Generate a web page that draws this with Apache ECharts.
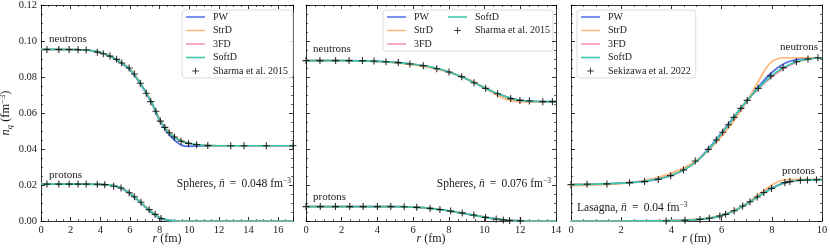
<!DOCTYPE html>
<html><head><meta charset="utf-8">
<script src="https://cdn.jsdelivr.net/npm/echarts@6/dist/echarts.min.js"></script>
<style>html,body{margin:0;padding:0;background:#fff}#c{width:830px;height:249px}</style>
</head><body><div id="c"></div><script>
// ---------- Panel 1: Spheres, nbar = 0.048 ----------
const p1_r_line_n = [0,1,2,3,3.5,4,4.5,5,5.5,6,6.5,7,7.5,8,8.5,9,9.5,10,10.5,11,12,13,14,15,16,17];
const p1_n_PW    = [0.0953,0.0953,0.0952,0.0950,0.0945,0.0936,0.0921,0.0900,0.0872,0.0840,0.0786,0.0722,0.0648,0.0557,0.0495,0.0450,0.0420,0.0415,0.0416,0.0417,0.0418,0.0418,0.0418,0.0418,0.0418,0.0418];
const p1_n_StrD  = [0.0953,0.0953,0.0952,0.0950,0.0945,0.0936,0.0921,0.0901,0.0875,0.0845,0.0792,0.0729,0.0656,0.0567,0.0508,0.0470,0.0446,0.0432,0.0424,0.0420,0.0418,0.0418,0.0418,0.0418,0.0418,0.0418];
const p1_n_3FD   = [0.0953,0.0953,0.0952,0.0950,0.0945,0.0936,0.0921,0.0901,0.0874,0.0843,0.0790,0.0726,0.0652,0.0562,0.0502,0.0463,0.0441,0.0430,0.0423,0.0420,0.0418,0.0418,0.0418,0.0418,0.0418,0.0418];
const p1_n_SoftD = [0.0953,0.0953,0.0952,0.0950,0.0945,0.0936,0.0921,0.0901,0.0874,0.0843,0.0790,0.0727,0.0653,0.0563,0.0503,0.0465,0.0443,0.0431,0.0424,0.0420,0.0418,0.0418,0.0418,0.0418,0.0418,0.0418];
const p1_r_line_p = [0,1,2,3,4,4.5,5,5.5,6,6.5,7,7.5,8,8.5,9,10,12,14,17];
const p1_p_PW    = [0.0205,0.0205,0.0205,0.0205,0.0204,0.0201,0.0194,0.0178,0.0151,0.0117,0.0080,0.0045,0.0017,0.0003,0.0000,0,0,0,0];
const p1_p_StrD  = [0.0205,0.0205,0.0205,0.0205,0.0204,0.0201,0.0195,0.0181,0.0155,0.0121,0.0083,0.0048,0.0021,0.0006,0.0001,0,0,0,0];
const p1_p_3FD   = [0.0205,0.0205,0.0205,0.0205,0.0204,0.0201,0.0195,0.0180,0.0154,0.0120,0.0082,0.0047,0.0020,0.0006,0.0001,0,0,0,0];
const p1_p_SoftD = [0.0205,0.0205,0.0205,0.0205,0.0204,0.0201,0.0195,0.0180,0.0154,0.0120,0.0082,0.0047,0.0020,0.0006,0.0001,0,0,0,0];
const p1_ref_r_n = [0.4,1.2,1.9,2.5,3.05,3.8,4.2,4.65,5.1,5.45,5.95,6.3,6.7,7.1,7.4,7.75,8.05,8.35,8.65,9.0,9.45,9.95,10.5,11.25,12.8,13.7,15.2,17.0];
const p1_ref_n   = [0.0953,0.0953,0.0953,0.0952,0.0950,0.0938,0.0929,0.0916,0.0898,0.0878,0.0850,0.0817,0.0765,0.0710,0.0663,0.0610,0.0555,0.0520,0.0490,0.0467,0.0443,0.0431,0.0424,0.0419,0.0418,0.0418,0.0418,0.0418];
const p1_ref_r_p = [0.4,1.2,1.9,2.5,3.05,3.8,4.3,4.9,5.4,5.95,6.3,6.75,7.3,7.7,8.1];
const p1_ref_p   = [0.0205,0.0205,0.0205,0.0205,0.0205,0.0204,0.0202,0.0193,0.0183,0.0157,0.0135,0.0104,0.0063,0.0037,0.0014];

// ---------- Panel 2: Spheres, nbar = 0.076 ----------
const p2_r_line = [0,1,2,3,4,5,6,6.5,7,7.5,8,8.5,9,9.5,10,10.5,11,11.5,12,12.5,13,14];
const p2_n_PW    = [0.0891,0.0891,0.0891,0.0890,0.0887,0.0881,0.0871,0.0864,0.0855,0.0843,0.0828,0.0810,0.0789,0.0765,0.0741,0.0717,0.0697,0.0681,0.0670,0.0666,0.0664,0.0663];
const p2_n_StrD  = [0.0892,0.0892,0.0891,0.0889,0.0885,0.0878,0.0867,0.0859,0.0850,0.0839,0.0826,0.0810,0.0792,0.0768,0.0740,0.0710,0.0684,0.0669,0.0662,0.0661,0.0662,0.0663];
const p2_n_3FD   = [0.0891,0.0891,0.0891,0.0890,0.0887,0.0881,0.0871,0.0864,0.0855,0.0843,0.0828,0.0810,0.0789,0.0764,0.0740,0.0717,0.0697,0.0681,0.0670,0.0666,0.0664,0.0663];
const p2_n_SoftD = [0.0891,0.0891,0.0891,0.0890,0.0887,0.0881,0.0871,0.0864,0.0855,0.0843,0.0828,0.0810,0.0789,0.0764,0.0740,0.0717,0.0697,0.0681,0.0670,0.0666,0.0664,0.0663];
const p2_p_PW    = [0.0080,0.0080,0.0080,0.0080,0.0080,0.0080,0.0077,0.0074,0.0069,0.0063,0.0056,0.0048,0.0039,0.0030,0.0021,0.0013,0.0007,0.0003,0.0001,0,0,0];
const p2_p_StrD  = [0.0080,0.0080,0.0080,0.0080,0.0080,0.0080,0.0077,0.0074,0.0070,0.0064,0.0057,0.0048,0.0039,0.0029,0.0020,0.0012,0.0006,0.0002,0.0001,0,0,0];
const p2_p_3FD   = [0.0080,0.0080,0.0080,0.0080,0.0080,0.0080,0.0077,0.0074,0.0069,0.0063,0.0056,0.0048,0.0039,0.0030,0.0021,0.0013,0.0007,0.0003,0.0001,0,0,0];
const p2_p_SoftD = [0.0080,0.0080,0.0080,0.0080,0.0080,0.0080,0.0077,0.0074,0.0069,0.0063,0.0056,0.0048,0.0039,0.0030,0.0021,0.0013,0.0007,0.0003,0.0001,0,0,0];
const p2_ref_r_n = [0,0.78,1.66,2.41,3.16,3.81,4.48,5.17,5.82,6.57,7.32,8.01,8.72,9.41,10.06,10.73,11.46,11.98,12.51,13.26,13.8];
const p2_ref_n   = [0.0891,0.0891,0.0891,0.0891,0.0891,0.0889,0.0885,0.0880,0.0872,0.0863,0.0846,0.0828,0.0802,0.0768,0.0737,0.0707,0.0680,0.0670,0.0667,0.0663,0.0663];
const p2_ref_r_p = [0,0.8,1.65,2.45,3.2,4.0,4.75,5.5,6.2,6.95,7.5,8.1,8.75,9.4,10.05,10.65,11.05,11.4,12.0];
const p2_ref_p   = [0.0080,0.0080,0.0080,0.0080,0.0080,0.0080,0.0080,0.0079,0.0076,0.0070,0.0064,0.0055,0.0045,0.0033,0.0020,0.0011,0.0006,0.0003,0.0001];

// ---------- Panel 3: Lasagna, nbar = 0.04 ----------
const p3_r_line_n = [0,0.5,1,1.5,2,2.5,3,3.5,4,4.5,5,5.5,6,6.5,7,7.5,8,8.5,9,9.5,10];
const p3_n_PW    = [0.0202,0.0203,0.0205,0.0207,0.0210,0.0214,0.0221,0.0233,0.0253,0.0285,0.0334,0.0405,0.0491,0.0580,0.0668,0.0752,0.0825,0.0875,0.0898,0.0905,0.0907];
const p3_n_3FD   = [0.0203,0.0204,0.0205,0.0207,0.0211,0.0216,0.0223,0.0235,0.0255,0.0284,0.0330,0.0398,0.0484,0.0574,0.0663,0.0740,0.0800,0.0848,0.0882,0.0900,0.0907];
const p3_n_SoftD = [0.0202,0.0203,0.0205,0.0207,0.0210,0.0215,0.0222,0.0234,0.0254,0.0284,0.0331,0.0400,0.0487,0.0577,0.0667,0.0744,0.0808,0.0855,0.0886,0.0901,0.0907];
const p3_r_StrD_n = [0,0.5,1,1.5,2,2.5,3,3.5,4,4.5,5,5.5,6,6.5,7,7.5,7.75,8,8.25,8.5,9,9.5,10];
const p3_n_StrD  = [0.0197,0.0198,0.0200,0.0203,0.0208,0.0215,0.0227,0.0243,0.0266,0.0296,0.0336,0.0395,0.0470,0.0558,0.0665,0.0785,0.0845,0.0885,0.0903,0.0907,0.0907,0.0907,0.0907];
const p3_r_line_p = [0,1,2,3,3.5,4,4.5,5,5.5,6,6.5,7,7.5,8,8.5,9,9.5,10];
const p3_p_PW    = [0,0,0,0.0001,0.0001,0.0002,0.0004,0.0008,0.0015,0.0030,0.0057,0.0095,0.0142,0.0183,0.0213,0.0226,0.0229,0.0230];
const p3_p_StrD  = [0,0,0,0.0001,0.0002,0.0003,0.0005,0.0010,0.0018,0.0033,0.0060,0.0098,0.0150,0.0200,0.0228,0.0232,0.0232,0.0232];
const p3_p_3FD   = [0,0,0,0.0001,0.0001,0.0002,0.0004,0.0008,0.0015,0.0030,0.0056,0.0093,0.0139,0.0180,0.0210,0.0224,0.0229,0.0230];
const p3_p_SoftD = [0,0,0,0.0001,0.0001,0.0002,0.0004,0.0008,0.0015,0.0030,0.0056,0.0094,0.0140,0.0181,0.0211,0.0225,0.0229,0.0230];
const p3_ref_r_n = [0,0.64,1.43,2.33,2.93,3.48,3.97,4.48,4.95,5.47,5.79,6.04,6.27,6.49,6.77,7.02,7.46,7.96,8.45,8.98,9.44,9.84];
const p3_ref_n   = [0.0202,0.0204,0.0206,0.0213,0.0219,0.0231,0.0252,0.0283,0.0333,0.0398,0.0450,0.0493,0.0535,0.0576,0.0626,0.0670,0.0737,0.0806,0.0852,0.0885,0.0900,0.0907];
const p3_ref_r_p = [3.79,4.54,5.14,5.51,5.93,6.16,6.5,6.84,7.13,7.42,7.68,7.99,8.52,8.72,9.14,9.42,9.78];
const p3_ref_p   = [0.0000,0.0004,0.0009,0.0015,0.0028,0.0037,0.0057,0.0083,0.0107,0.0133,0.0158,0.0181,0.0213,0.0219,0.0226,0.0228,0.0229];

// axis settings
const xMax = [17, 14, 10];
const xInterval = 2;
const yMin = 0, yMax = 0.12, yInterval = 0.02;

// ---------- styling ----------
const FONT = 'Liberation Serif';
const TXT = '#1a1a1a';
const COL = {PW:'#4f6fe8', StrD:'#ffb677', '3FD':'#f68eaa', SoftD:'#38c7a8'};
const plusSym = 'path://M4.2,0h1.6v10h-1.6zM0,4.2h10v1.6h-10z';
const lineIcon = 'path://M0,0h0.01v0.01h-0.01zM0,4.1h20v1.8h-20zM19.99,9.99h0.01v0.01h-0.01z';
const plusIcon = 'path://M0,0h0.01v0.01h-0.01zM6.35,2.5h1.3v9h-1.3zM2.5,6.35h9v1.3h-9zM13.99,13.99h0.01v0.01h-0.01z';

const grids = [
  {left:41, top:5, width:252, height:216, outerBoundsMode:'none', containLabel:false},
  {left:306, top:5, width:250, height:216, outerBoundsMode:'none', containLabel:false},
  {left:571, top:5, width:251, height:216, outerBoundsMode:'none', containLabel:false}
];

const pairs = (r, v) => r.map((x, i) => [x, v[i]]);
const axLine = {show:true, onZero:false, lineStyle:{color:'#000', width:0.8}};
const tick = {show:true, inside:true, length:4, lineStyle:{color:'#000', width:0.8}};
const minor = {show:true, splitNumber:4, length:2, lineStyle:{color:'#000', width:0.6}};

const xAxes = [], yAxes = [];
grids.forEach((g, i) => {
  xAxes.push({type:'value', gridIndex:i, min:0, max:xMax[i], interval:xInterval, position:'bottom',
    axisLine:axLine, axisTick:tick, minorTick:minor, splitLine:{show:false},
    axisLabel:{fontFamily:FONT, fontSize:10.5, color:TXT, margin:4, showMaxLabel: xMax[i] % xInterval === 0},
    name:'{i|r}{t| (fm)}', nameLocation:'middle', nameGap:12, nameMoveOverlap:false,
    nameTextStyle:{verticalAlign:'top', rich:{i:{fontFamily:FONT, fontSize:12, fontStyle:'italic', color:TXT}, t:{fontFamily:FONT, fontSize:12, color:TXT}}}
  });
  xAxes.push({type:'value', gridIndex:i, min:0, max:xMax[i], interval:xInterval, position:'top',
    axisLine:axLine, axisTick:tick, minorTick:minor, splitLine:{show:false}, axisLabel:{show:false}});
  const yl = {type:'value', gridIndex:i, min:yMin, max:yMax, interval:yInterval, position:'left',
    axisLine:axLine, axisTick:tick, minorTick:minor, splitLine:{show:false},
    axisLabel:{show:i===0, fontFamily:FONT, fontSize:10.5, color:TXT, margin:4, formatter:v=>v.toFixed(2)}};
  if (i === 0) {
    yl.name = '{i|n}{sub|q}{t| (fm}{sup|−3}{t|)}';
    yl.nameLocation = 'middle'; yl.nameRotate = 90; yl.nameGap = 27; yl.nameMoveOverlap = false;
    yl.nameTextStyle = {rich:{
      i:{fontFamily:FONT, fontSize:12.5, fontStyle:'italic', color:TXT, lineHeight:16},
      sub:{fontFamily:FONT, fontSize:8.5, fontStyle:'italic', color:TXT, verticalAlign:'bottom', lineHeight:16},
      t:{fontFamily:FONT, fontSize:12.5, color:TXT, lineHeight:16},
      sup:{fontFamily:FONT, fontSize:8.5, color:TXT, verticalAlign:'top', lineHeight:9}}};
  }
  yAxes.push(yl);
  yAxes.push({type:'value', gridIndex:i, min:yMin, max:yMax, interval:yInterval, position:'right',
    axisLine:axLine, axisTick:tick, minorTick:minor, splitLine:{show:false}, axisLabel:{show:false}});
});

const series = [];
function addLine(name, gi, r, v) {
  series.push({type:'line', name, xAxisIndex:gi*2, yAxisIndex:gi*2, data:pairs(r, v),
    symbol:'none', smooth:0.35, lineStyle:{color:COL[name], width:1.7}, itemStyle:{color:COL[name]},
    emphasis:{disabled:true}, z:2, silent:true});
}
function addRef(name, gi, r, v) {
  series.push({type:'scatter', name, xAxisIndex:gi*2, yAxisIndex:gi*2, data:pairs(r, v),
    symbol:plusSym, symbolSize:7, itemStyle:{color:'#000'}, z:5, silent:true, emphasis:{disabled:true}});
}
// panel 1
[['PW',p1_n_PW,p1_p_PW],['StrD',p1_n_StrD,p1_p_StrD],['3FD',p1_n_3FD,p1_p_3FD],['SoftD',p1_n_SoftD,p1_p_SoftD]].forEach(([n,a,b])=>{
  addLine(n,0,p1_r_line_n,a); addLine(n,0,p1_r_line_p,b);
});
addRef('Sharma et al. 2015',0,p1_ref_r_n,p1_ref_n);
addRef('Sharma et al. 2015',0,p1_ref_r_p,p1_ref_p);
// panel 2
[['PW',p2_n_PW,p2_p_PW],['StrD',p2_n_StrD,p2_p_StrD],['3FD',p2_n_3FD,p2_p_3FD],['SoftD',p2_n_SoftD,p2_p_SoftD]].forEach(([n,a,b])=>{
  addLine(n,1,p2_r_line,a); addLine(n,1,p2_r_line,b);
});
addRef('Sharma et al. 2015',1,p2_ref_r_n,p2_ref_n);
addRef('Sharma et al. 2015',1,p2_ref_r_p,p2_ref_p);
// panel 3
addLine('PW',2,p3_r_line_n,p3_n_PW); addLine('PW',2,p3_r_line_p,p3_p_PW);
addLine('StrD',2,p3_r_StrD_n,p3_n_StrD); addLine('StrD',2,p3_r_line_p,p3_p_StrD);
addLine('3FD',2,p3_r_line_n,p3_n_3FD); addLine('3FD',2,p3_r_line_p,p3_p_3FD);
addLine('SoftD',2,p3_r_line_n,p3_n_SoftD); addLine('SoftD',2,p3_r_line_p,p3_p_SoftD);
addRef('Sekizawa et al. 2022',2,p3_ref_r_n,p3_ref_n);
addRef('Sekizawa et al. 2022',2,p3_ref_r_p,p3_ref_p);

function legItem(n){ return {name:n, icon: (n.indexOf('et al.')>=0 ? plusIcon : lineIcon)}; }
function mkLegend(names, left, top, boxed) {
  return {orient:'vertical', left, top, data:names.map(legItem), selectedMode:false,
    itemWidth:19, itemHeight:10, itemGap:3.5, padding:[2,5,2,4],
    itemStyle:{borderWidth:0},
    textStyle:{fontFamily:FONT, fontSize:10, lineHeight:10, color:TXT, padding:[0,0,0,3]},
    borderColor: boxed ? '#d4d4d4' : 'transparent', borderWidth: boxed ? 0.8 : 0, borderRadius:3,
    backgroundColor: boxed ? 'rgba(255,255,255,0.85)' : 'transparent'};
}
const legends = [
  mkLegend(['PW','StrD','3FD','SoftD','Sharma et al. 2015'], 182, 10, true),
  mkLegend(['PW','StrD','3FD'], 383, 10, false),
  mkLegend(['SoftD','Sharma et al. 2015'], 444, 10, false),
  mkLegend(['PW','StrD','3FD','SoftD','Sekizawa et al. 2022'], 577, 10, true)
];

const ann = (x, y, text, align, fs) => { fs = fs || 11; return {type:'text', x, y, z:10, silent:true,
  style:{text, fill:TXT, font:fs+'px "'+FONT+'"', align: align||'left', verticalAlign:'middle',
    textAlign: align||'left', textVerticalAlign:'middle',
    rich:{t:{fontFamily:FONT, fontSize:fs, color:TXT, lineHeight:13},
          i:{fontFamily:FONT, fontSize:fs, fontStyle:'italic', color:TXT, lineHeight:13},
          s:{fontFamily:FONT, fontSize:7.5, color:TXT, verticalAlign:'top', lineHeight:8}}}}; };
const EQ = ' \u2009=\u2009 ';
const graphic = [
  {type:'rect', shape:{x:383, y:10, width:170, height:41, r:3}, z:0, silent:true,
   style:{fill:'rgba(255,255,255,0.85)', stroke:'#d4d4d4', lineWidth:0.8}},
  ann(49, 39, '{t|neutrons}'),
  ann(49, 175, '{t|protons}'),
  ann(291, 184, '{t|Spheres, }{i|n̄}{t|'+EQ+'0.048 fm}{s|−3}', 'right', 11.5),
  ann(313, 49, '{t|neutrons}'),
  ann(313, 197, '{t|protons}'),
  ann(551, 184, '{t|Spheres, }{i|n̄}{t|'+EQ+'0.076 fm}{s|−3}', 'right', 11.5),
  ann(818, 47, '{t|neutrons}', 'right'),
  ann(815, 171, '{t|protons}', 'right'),
  ann(577, 208, '{t|Lasagna, }{i|n̄}{t|'+EQ+'0.04 fm}{s|−3}', 'left', 11.5)
];

const chart = echarts.init(document.getElementById('c'), null, {renderer:'canvas'});
chart.setOption({animation:false, backgroundColor:'#fff', grid:grids, xAxis:xAxes, yAxis:yAxes,
  legend:legends, series, graphic});
</script></body></html>
